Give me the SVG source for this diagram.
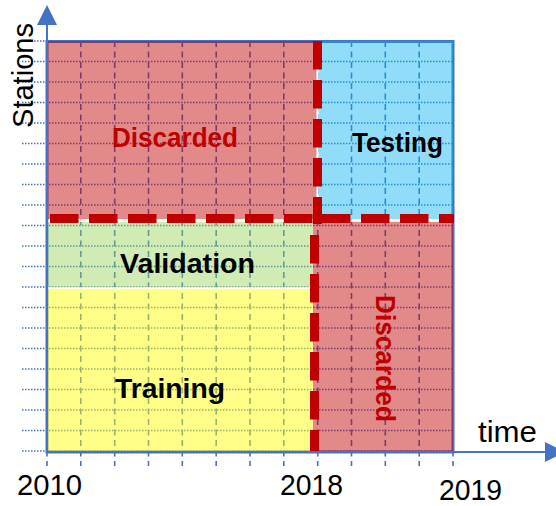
<svg xmlns="http://www.w3.org/2000/svg" width="556" height="506" viewBox="0 0 556 506">
<style>
.hg{stroke:#4472c4;stroke-width:1.5;stroke-dasharray:1.5 1.5;fill:none}
.vg{stroke:#4472c4;stroke-width:1.6;stroke-dasharray:6 4.5;fill:none}
.reg{stroke:none}
.sep{stroke:#ffffff;stroke-width:1.5;fill:none}
.cut{stroke:#c00000;stroke-width:9;fill:none;stroke-dasharray:28.5 10.5}
.axis{stroke:#4472c4;stroke-width:2;fill:none}
.lbl{font-family:"Liberation Sans",Arial,sans-serif;font-weight:bold;font-size:28px}
.ax{font-family:"Liberation Sans",Arial,sans-serif;font-size:29px;fill:#000}
</style>
<defs>
<marker id="arr" markerUnits="userSpaceOnUse" markerWidth="20" markerHeight="20" refX="0" refY="9.5" orient="auto" viewBox="0 0 19 19">
<path d="M0,0 L19,9.5 L0,19 z" fill="#4472c4"/>
</marker>
</defs>
<rect width="556" height="506" fill="#ffffff"/>
<g id="grid">
<path class="hg" d="M22,41H453M22,61.5H453M22,82H453M22,102.5H453M22,123H453M22,143.5H453M22,164H453M22,184.5H453M22,205H453M22,225.5H453M22,246H453M22,266.5H453M22,287H453M22,307.5H453M22,328H453M22,348.5H453M22,369H453M22,389.5H453M22,410H453M22,430.5H453M22,451H453"/>
<path class="vg" d="M47,41V466M80.8,41V466M114.7,41V466M148.5,41V466M182.3,41V466M216.2,41V466M250,41V466M283.8,41V466M317.7,41V466M351.5,41V466M385.3,41V466M419.2,41V466M453,41V466"/>
<rect x="47" y="41.5" width="406" height="410.5" fill="none" stroke="#4472c4" stroke-width="3"/>
</g>
<g id="discarded-top">
<rect class="reg" x="47" y="41" width="269.5" height="178" fill="#c00000" fill-opacity="0.46"/>
<text class="lbl" x="112" y="147" fill="#c00000" textLength="126" lengthAdjust="spacingAndGlyphs">Discarded</text>
</g>
<g id="testing">
<rect class="reg" x="318.5" y="41" width="134.5" height="178" fill="#00b0f0" fill-opacity="0.43"/>
<text class="lbl" x="352" y="152" fill="#000" textLength="91" lengthAdjust="spacingAndGlyphs">Testing</text>
</g>
<g id="validation">
<rect class="reg" x="47" y="221.5" width="266" height="66" fill="#92d050" fill-opacity="0.43"/>
<text class="lbl" x="120" y="273" fill="#000" textLength="135" lengthAdjust="spacingAndGlyphs">Validation</text>
</g>
<g id="training">
<rect class="reg" x="47" y="288.5" width="266" height="163.5" fill="#ffff00" fill-opacity="0.47"/>
<text class="lbl" x="115" y="398" fill="#000" textLength="110" lengthAdjust="spacingAndGlyphs">Training</text>
</g>
<g id="discarded-bottom">
<rect class="reg" x="313" y="221.5" width="140" height="230.5" fill="#c00000" fill-opacity="0.46"/>
<text class="lbl" transform="translate(376,295) rotate(90)" fill="#c00000" textLength="127" lengthAdjust="spacingAndGlyphs">Discarded</text>
</g>
<g id="connectors">
<path class="sep" d="M317.5,41V218M47,221H453M47,288H313"/>
<path class="cut" d="M50,218.5H317" stroke-dasharray="29 10"/>
<path class="cut" d="M322,218.5H454"/>
<path class="cut" d="M317.5,41V224" stroke-dasharray="28 11"/>
<path class="cut" d="M314.5,235V452" stroke-dasharray="28 11"/>
<path class="axis" d="M47,453V25" marker-end="url(#arr)"/>
<path class="axis" d="M46,452H545" marker-end="url(#arr)"/>
</g>
<g id="labels">
<text class="ax" transform="translate(33,128) rotate(-90)" textLength="105" lengthAdjust="spacingAndGlyphs">Stations</text>
<text class="ax" x="478" y="442" font-size="30" textLength="59" lengthAdjust="spacingAndGlyphs">time</text>
<text class="ax" x="17" y="495" textLength="65" lengthAdjust="spacingAndGlyphs">2010</text>
<text class="ax" x="280" y="495" textLength="63" lengthAdjust="spacingAndGlyphs">2018</text>
<text class="ax" x="439" y="500" textLength="63" lengthAdjust="spacingAndGlyphs">2019</text>
</g>
</svg>
